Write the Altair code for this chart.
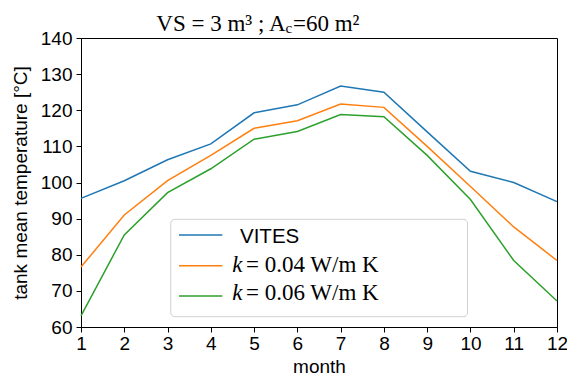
import altair as alt
import pandas as pd

# ---- data ----
months = list(range(1, 13))
vites = [95.6, 100.5, 106.3, 110.7, 119.3, 121.5, 126.7, 125.0, 114.0, 103.1, 100.0, 94.7]
k004 = [76.6, 91.0, 100.5, 107.5, 115.0, 117.1, 121.7, 120.8, 110.0, 98.9, 87.7, 78.4]
k006 = [63.1, 85.5, 97.2, 103.8, 112.0, 114.1, 118.8, 118.2, 107.5, 95.3, 78.4, 67.2]
series_keys = ["VITES", "k004", "k006"]
legend_values = ["", "0.04", "0.06"]
colors = ["#1f77b4", "#ff7f0e", "#2ca02c"]
x_ticks = months
y_ticks = [60, 70, 80, 90, 100, 110, 120, 130, 140]

W, H = 476, 289
PAD_L, PAD_T = 81, 38

rows = []
for key, vals in zip(series_keys, [vites, k004, k006]):
    for m, v in zip(months, vals):
        rows.append({"month": m, "temp": v, "series": key})
df = pd.DataFrame(rows)

lines = alt.Chart(df).mark_line(strokeWidth=1.5).encode(
    x=alt.X("month:Q", scale=alt.Scale(domain=[1, 12], nice=False, zero=False),
            axis=alt.Axis(values=x_ticks, title="month", format="d")),
    y=alt.Y("temp:Q", scale=alt.Scale(domain=[60, 140], nice=False, zero=False),
            axis=alt.Axis(values=y_ticks, title="tank mean temperature [°C]")),
    color=alt.Color("series:N", scale=alt.Scale(domain=series_keys, range=colors), legend=None),
)

one = pd.DataFrame({"a": [0]})


def px(x):
    return x - PAD_L


def py(y):
    return y - PAD_T


def txt(s, x, y, font, size, style="normal", align="left"):
    return alt.Chart(one).mark_text(
        text=s, font=font, fontSize=size, fontStyle=style,
        align=align, baseline="alphabetic", color="black"
    ).encode(x=alt.value(px(x)), y=alt.value(py(y)))


legend_box = alt.Chart(one).mark_rect(
    fill="white", fillOpacity=0.8, stroke="#d0d0d0", strokeWidth=1, cornerRadius=4
).encode(
    x=alt.value(px(170.7)), x2=alt.value(px(467.5)),
    y=alt.value(py(219.3)), y2=alt.value(py(316.7)),
)

layers = [lines, legend_box]
line_y = [235, 265.7, 296]
text_base = [243.3, 272.3, 299.5]
SERIF = "Liberation Serif"
for i, key in enumerate(series_keys):
    layers.append(
        alt.Chart(one).mark_rule(color=colors[i], strokeWidth=1.5).encode(
            x=alt.value(px(179)), x2=alt.value(px(222.3)), y=alt.value(py(line_y[i]))
        )
    )
    if i == 0:
        layers.append(txt(key, 240, text_base[i], "Liberation Sans", 20.5))
    else:
        b = text_base[i]
        layers.append(txt("k", 232.3, b, SERIF, 23, style="italic"))
        layers.append(txt("= " + legend_values[i] + " W/m K", 246, b, SERIF, 23))

# title pieces: "VS = 3 m³ ; A" + subscript "c" + "=60 m²"
layers.append(txt("VS = 3 m³ ; A", 285.5, 30.7, SERIF, 23, align="right"))
layers.append(txt("c", 285.5, 33, SERIF, 15))
layers.append(txt("=60 m²", 293, 30.7, SERIF, 23))

chart = alt.layer(*layers).properties(
    width=W, height=H,
    autosize=alt.AutoSizeParams(type="none"),
    padding={"left": PAD_L, "top": PAD_T, "right": 567 - PAD_L - W, "bottom": 379 - PAD_T - H},
    background="white",
).configure_view(
    stroke="black", strokeWidth=1
).configure_axis(
    grid=False,
    domainColor="black", domainWidth=1,
    tickColor="black", tickSize=5, tickWidth=1,
    labelFont="Liberation Sans", labelFontSize=19, labelColor="black",
    titleFont="Liberation Sans", titleFontSize=19, titleColor="black",
    titleFontWeight="normal",
).configure_axisX(
    labelPadding=2, titlePadding=4, labelFlush=False
).configure_axisY(
    labelPadding=4, titlePadding=10, labelFlush=False
)

chart.save("out.html", embed_options={"renderer": "svg", "actions": False})
